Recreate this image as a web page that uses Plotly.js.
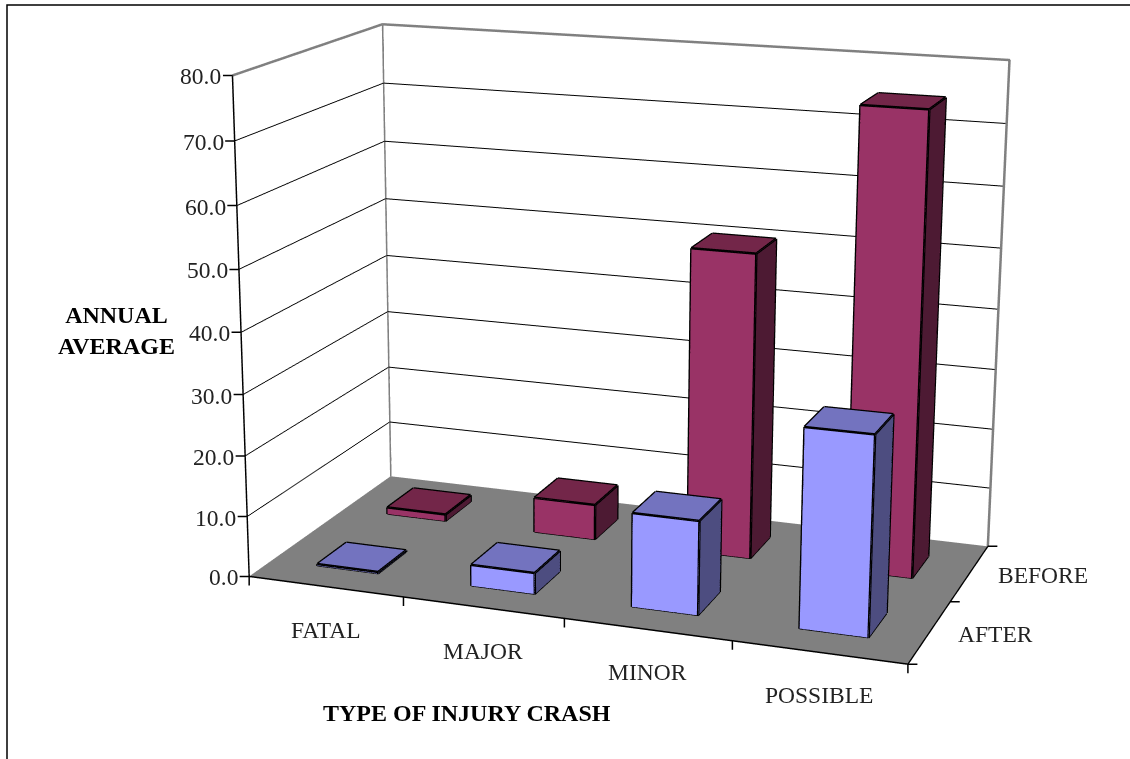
<!DOCTYPE html><html><head><meta charset="utf-8"><script src="https://cdn.plot.ly/plotly-3.0.1.min.js"></script>
<style>html,body{margin:0;padding:0;width:1130px;height:759px;overflow:hidden;background:#fff}#g{position:absolute;left:-1130px;top:-759px;width:3390px;height:2277px}</style></head><body><div id="g"></div><script>
var categories=['FATAL','MAJOR','MINOR','POSSIBLE'];
var periods=['AFTER','BEFORE'];
var afterValues=[0.3,3.5,15.2,31.7];
var beforeValues=[1.2,6,50.5,75];
var zTicks=[0,10,20,30,40,50,60,70,80];
var barWidth=0.4;
function px(x){return (x+1130)/3390}
function py(y){return 1-(y+759)/2277}
function boxes(vals,row,cols,name){
  var X=[],Y=[],Z=[],I=[],J=[],K=[],FC=[],ex=[],ey=[],ez=[];
  vals.forEach(function(v,c){
    var x0=c+.5-barWidth/2,x1=c+.5+barWidth/2,y0=row+.5-barWidth/2,y1=row+.5+barWidth/2,b=X.length;
    [[x0,y0,0],[x1,y0,0],[x1,y1,0],[x0,y1,0],[x0,y0,v],[x1,y0,v],[x1,y1,v],[x0,y1,v]].forEach(function(p){X.push(p[0]);Y.push(p[1]);Z.push(p[2])});
    [[0,1,5,0],[0,5,4,0],[1,2,6,1],[1,6,5,1],[4,5,6,2],[4,6,7,2],[3,0,4,1],[3,4,7,1],[2,3,7,0],[2,7,6,0],[0,1,2,0],[0,2,3,0]].forEach(function(t){I.push(b+t[0]);J.push(b+t[1]);K.push(b+t[2]);FC.push(cols[t[3]])});
    [[0,1],[1,5],[5,4],[4,0],[1,2],[2,6],[6,5],[6,7],[7,4],[0,4]].forEach(function(e){
      ex.push(X[b+e[0]],X[b+e[1]],null);ey.push(Y[b+e[0]],Y[b+e[1]],null);ez.push(Z[b+e[0]],Z[b+e[1]],null);
    });
  });
  return [{type:'mesh3d',name:name,x:X,y:Y,z:Z,i:I,j:J,k:K,facecolor:FC,flatshading:true,hoverinfo:'skip',showscale:false,
    lighting:{ambient:1,diffuse:0,specular:0,roughness:1,fresnel:0},lightposition:{x:0,y:0,z:0}},
    {type:'scatter3d',mode:'lines',x:ex,y:ey,z:ez,line:{color:'#000',width:5},hoverinfo:'skip',showlegend:false}];
}
var nx=categories.length,ny=periods.length,zMax=zTicks[zTicks.length-1];
var wall={type:'scatter3d',mode:'lines',hoverinfo:'skip',showlegend:false,line:{color:'#808080',width:5},
  x:[0,0,nx,nx,null,0,0],y:[0,ny,ny,ny,null,ny,ny],z:[zMax,zMax,zMax,0,null,0,zMax]};
var traces=[wall].concat(boxes(beforeValues,1,['#993366','#4D1A33','#732649'],'BEFORE'),boxes(afterValues,0,['#9999FF','#4D4D80','#7373BF'],'AFTER'));
var F={family:'"Liberation Serif",serif',size:23.5,color:'#222'};
var ann=[];
function tick(x,y,z,dx,dy){ann.push({x:x,y:y,z:z,showarrow:true,arrowhead:0,arrowwidth:1.5,arrowcolor:'#000',standoff:0,startstandoff:0,ax:dx,ay:dy,borderpad:0,font:{size:1}})}
zTicks.forEach(function(v){ann.push({x:0,y:0,z:v,text:v.toFixed(1),showarrow:false,xanchor:'right',yanchor:'middle',xshift:-9,yshift:-1,font:F});tick(0,0,v,-10,0)});
categories.forEach(function(c,i){ann.push({x:i+.5,y:0,z:0,text:c,showarrow:false,xanchor:'center',yanchor:'middle',yshift:-43,font:F})});
for(var i=0;i<=nx;i++)tick(i,0,0,0,10);
periods.forEach(function(c,i){ann.push({x:nx,y:i+.5,z:0,text:c,showarrow:false,xanchor:'left',yanchor:'middle',xshift:26,yshift:-2,font:F})});
for(var j=0;j<=ny;j++)tick(nx,j,0,10,0);
function ax(range,tv,extra){return Object.assign({type:'linear',range:range,autorange:false,tickmode:'array',tickvals:tv,showticklabels:false,title:{text:''},showspikes:false,showgrid:false,zeroline:false,
  showline:true,linecolor:'#000',linewidth:3,ticks:'',showbackground:true,backgroundcolor:'#fff'},extra||{})}
var B=F.family;
var layout={width:3390,height:2277,margin:{l:0,r:0,t:0,b:0},paper_bgcolor:'#fff',showlegend:false,
 scene:{domain:{x:[0,1],y:[0,1]},aspectmode:'manual',aspectratio:{x:1,y:.5168,z:.7503},
  camera:{eye:{x:1.2851,y:-3.7001,z:1.0231},center:{x:-.0955,y:0,z:-.0996},up:{x:0,y:0,z:1},projection:{type:'perspective'}},
  xaxis:ax([0,nx],[0,1,2,3,4]),yaxis:ax([0,ny],[0,1,2]),
  zaxis:ax([0,zMax],zTicks.slice(1,-1),{showgrid:true,gridcolor:'#000',gridwidth:2,backgroundcolor:'#808080'}),annotations:ann},
 annotations:[
  {xref:'paper',yref:'paper',x:px(116),y:py(330),text:'<b>ANNUAL<br>AVERAGE</b>',showarrow:false,align:'center',font:{family:B,size:24,color:'#000'}},
  {xref:'paper',yref:'paper',x:px(467),y:py(713),text:'<b>TYPE OF INJURY CRASH</b>',showarrow:false,font:{family:B,size:24,color:'#000'}}],
 shapes:[{type:'path',xref:'paper',yref:'paper',path:'M'+px(7)+' '+py(800)+' L'+px(7)+' '+py(5)+' L'+px(1135)+' '+py(5),line:{color:'#000',width:1.5}}]};
Plotly.newPlot('g',traces,layout,{displayModeBar:false,plotGlPixelRatio:2});
</script></body></html>
